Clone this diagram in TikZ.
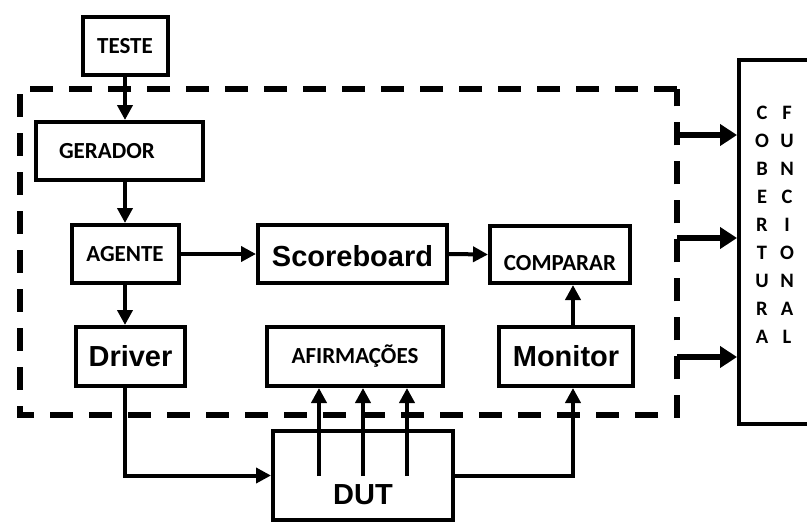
\documentclass[tikz,border=0pt]{standalone}
\usepackage{fontspec}
\setmainfont{Carlito}
\newfontfamily\arialfont{Liberation Sans}
\usetikzlibrary{arrows.meta}
\begin{document}
\begin{tikzpicture}[x=1pt,y=-1pt,
  box/.style={draw, line width=4pt, inner sep=0pt, font=\bfseries\fontsize{23}{25}\selectfont},
  bigtext/.style={font=\arialfont\bfseries\fontsize{29}{32}\selectfont},
  covtext/.style={inner sep=0pt, align=center, font=\bfseries\fontsize{20.5}{28}\selectfont},
  arr/.style={line width=4pt, -{Triangle[length=15pt,width=15pt]}},
  bigarr/.style={line width=6.5pt, -{Triangle[length=17pt,width=21pt]}},
  dashframe/.style={line width=6pt, dash pattern=on 23pt off 16pt}]
\clip (0,0) rectangle (807,523);
\fill[white] (0,0) rectangle (807,523);

% dashed frame
\node[minimum width=657pt, minimum height=326pt, inner sep=0pt] (frame) at (348.5,252) {};
\draw[dashframe] (frame.north east) -- (frame.north west) -- (frame.south west) -- (frame.south east) -- cycle;

% boxes
\node[box, minimum width=85pt, minimum height=58pt] (teste) at (125,46) {TESTE};
\node[box, anchor=west, minimum height=58pt, text width=121pt, align=left, inner xsep=23pt] (gerador) at (34,151) {GERADOR};
\node[box, minimum width=107pt, minimum height=58pt] (agente) at (125,254) {AGENTE};
\node[box, bigtext, minimum width=189pt, minimum height=58pt, text height=24pt, text depth=0pt] (score) at (352.5,254) {Scoreboard};
\node[box, minimum width=140pt, minimum height=57pt, text height=31pt, text depth=0pt] (comparar) at (560,254.5) {COMPARAR};
\node[box, bigtext, minimum width=109pt, minimum height=59pt] (driver) at (130.5,356.5) {Driver};
\node[box, minimum width=176pt, minimum height=59pt] (afirm) at (355,356.5) {AFIRMAÇÕES};
\node[box, bigtext, minimum width=134pt, minimum height=59pt] (monitor) at (566,356.5) {Monitor};
\node[box, bigtext, minimum width=180pt, minimum height=89pt, text height=58pt, text depth=0pt] (dut) at (363,475.5) {DUT};

% coverage box
\node[draw, line width=4pt, minimum width=120pt, minimum height=364pt, anchor=north west] (cob) at (737,58) {};
\node[covtext] (colA) at (762,224.5) {C\\O\\B\\E\\R\\T\\U\\R\\A};
\node[covtext] (colB) at (787,224.5) {F\\U\\N\\C\\I\\O\\N\\A\\L};

% coordinates
\coordinate (mx) at (573,0);
\coordinate (a1) at (319,476);
\coordinate (a2) at (363,476);
\coordinate (a3) at (407,476);
\coordinate (y1) at (0,135);
\coordinate (y2) at (0,238);
\coordinate (y3) at (0,357);

% connectors
\draw[arr] (teste.south) -- (teste.south |- gerador.north);
\draw[arr] (gerador.south -| agente.north) -- (agente.north);
\draw[arr] (agente.east) -- (score.west);
\draw[arr] (score.east) -- (comparar.west);
\draw[arr] (agente.south) -- (agente.south |- driver.north);
\draw[arr] (driver.south -| agente.south) |- (dut.west);
\draw[arr] (dut.east) -| (mx |- monitor.south);
\draw[arr] (mx |- monitor.north) -- (mx |- comparar.south);
\draw[arr] (a1) -- (a1 |- afirm.south);
\draw[arr] (a2) -- (a2 |- afirm.south);
\draw[arr] (a3) -- (a3 |- afirm.south);

\draw[bigarr] (frame.east |- y1) -- (cob.west |- y1);
\draw[bigarr] (frame.east |- y2) -- (cob.west |- y2);
\draw[bigarr] (frame.east |- y3) -- (cob.west |- y3);
\end{tikzpicture}
\end{document}
